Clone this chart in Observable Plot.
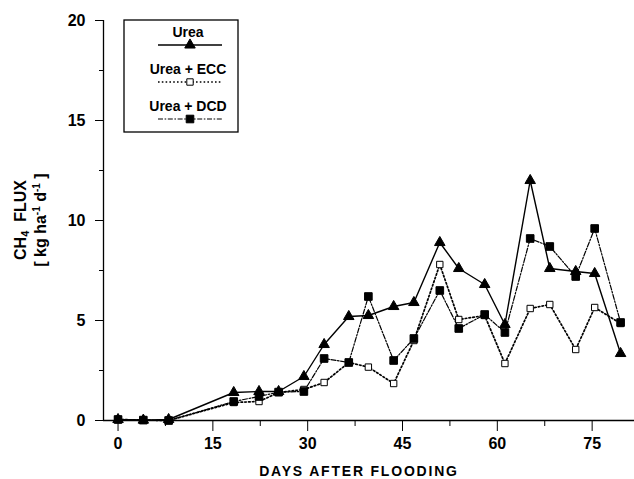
<!DOCTYPE html>
<html><head><meta charset="utf-8">
<script src="https://cdn.jsdelivr.net/npm/d3@7"></script>
<script src="https://cdn.jsdelivr.net/npm/@observablehq/plot@0.6"></script>
<style>
body{margin:0;background:#fff;}
#wrap{width:634px;height:479px;}
</style></head><body><div id="wrap"></div>
<script>
const days = [0, 4, 8, 18.3, 22.3, 25.4, 29.4, 32.6, 36.5, 39.6, 43.6, 46.8, 50.9, 53.9, 58.0, 61.2, 65.2, 68.3, 72.4, 75.4, 79.5];
const urea = [0.05, 0.02, 0.05, 1.4, 1.45, 1.45, 2.2, 3.8, 5.2, 5.25, 5.7, 5.9, 8.9, 7.6, 6.8, 4.8, 12.0, 7.6, 7.45, 7.35, 3.35];
const ecc  = [0.05, 0.02, 0.0, 0.9, 0.95, 1.4, 1.55, 1.9, 2.9, 2.67, 1.85, 4.0, 7.8, 5.05, 5.25, 2.85, 5.6, 5.8, 3.55, 5.65, 4.85];
const dcd  = [0.05, 0.02, 0.0, 0.95, 1.2, 1.42, 1.45, 3.1, 2.9, 6.2, 3.0, 4.1, 6.5, 4.6, 5.3, 4.4, 9.1, 8.7, 7.2, 9.6, 4.9];
const seriesNames = ["Urea", "Urea + ECC", "Urea + DCD"];
const xTicks = [0, 15, 30, 45, 60, 75];
const xMinor = [7.5, 22.5, 37.5, 52.5, 67.5];
const yTicks = [0, 5, 10, 15, 20];
const yMinor = [2.5, 7.5, 12.5, 17.5];
const xLabel = "DAYS AFTER FLOODING";

const styles = {
  "Urea":       {dash: null, width: 1.4, symbol: "triangle", r: 3.9, fill: "black"},
  "Urea + ECC": {dash: "1.6,2.2", width: 1.7, symbol: "square", r: 3.6, fill: "white"},
  "Urea + DCD": {dash: "5,1.6,1.6,1.6", width: 1.2, symbol: "square", r: 4.3, fill: "black"}
};
const vals = [urea, ecc, dcd];
const rows = [];
seriesNames.forEach((s, i) => days.forEach((d, j) => rows.push({series: s, day: d, flux: vals[i][j]})));

const xDom = [-2.3, 81.7];
const font = "'Liberation Sans', Arial, sans-serif";

const marks = [
  Plot.ruleY([0], {stroke: "black", strokeWidth: 1.3}),
  Plot.ruleX([xDom[0]], {stroke: "black", strokeWidth: 1.3}),
  Plot.axisX(xTicks, {tickSize: 11, tickPadding: 6, fontSize: 16, fontWeight: "bold", label: null}),
  Plot.axisX(xMinor, {tickSize: 6, tickFormat: () => "", label: null}),
  Plot.axisY(yTicks, {tickSize: 8, tickPadding: 10, fontSize: 16, fontWeight: "bold", label: null}),
  Plot.axisY(yMinor, {tickSize: 4, tickFormat: () => "", label: null})
];
seriesNames.forEach(s => {
  const st = styles[s];
  const data = rows.filter(r => r.series === s);
  marks.push(Plot.line(data, {x: "day", y: "flux", stroke: "black", strokeWidth: st.width, strokeDasharray: st.dash}));
});
seriesNames.forEach(s => {
  const st = styles[s];
  const data = rows.filter(r => r.series === s);
  marks.push(Plot.dot(data, {x: "day", y: "flux", symbol: () => st.symbol, r: st.r, fill: st.fill, stroke: "black", strokeWidth: 1}));
});

const chart = Plot.plot({
  width: 634, height: 479,
  marginLeft: 103, marginRight: 0, marginTop: 20, marginBottom: 59,
  x: {domain: xDom, label: null},
  y: {domain: [0, 20], label: null},
  symbol: {type: "identity"},
  style: {fontFamily: font, color: "black", background: "white", overflow: "visible"},
  marks
});
document.getElementById("wrap").appendChild(chart);

const svg = d3.select(chart);
// x axis label
svg.append("text").attr("x", 359).attr("y", 472).attr("text-anchor", "middle")
  .attr("dominant-baseline", "middle")
  .style("font", `bold 14px ${font}`).style("letter-spacing", "1.8px").text(xLabel);
// y axis label
const yl = svg.append("g").attr("transform", "translate(22,220) rotate(-90)")
  .style("font", `bold 16px ${font}`);
const t1 = yl.append("text").attr("text-anchor", "middle").attr("dominant-baseline", "middle").attr("y", 0);
t1.append("tspan").text("CH");
t1.append("tspan").attr("dy", 4).style("font-size", "11px").text("4");
t1.append("tspan").attr("dy", -4).text("  FLUX");
const t2 = yl.append("text").attr("text-anchor", "middle").attr("dominant-baseline", "middle").attr("y", 20);
t2.append("tspan").text("[ kg ha");
t2.append("tspan").attr("dy", -5).style("font-size", "10px").text("-1");
t2.append("tspan").attr("dy", 5).text(" d");
t2.append("tspan").attr("dy", -5).style("font-size", "10px").text("-1");
t2.append("tspan").attr("dy", 5).text(" ]");

// legend
const lg = svg.append("g");
lg.append("rect").attr("x", 124).attr("y", 20).attr("width", 114).attr("height", 112)
  .attr("fill", "white").attr("stroke", "black").attr("stroke-width", 1.3);
seriesNames.forEach((s, i) => {
  const st = styles[s];
  const ty = 33 + i * 37, ly = ty + 12;
  lg.append("text").attr("x", 188).attr("y", ty).attr("text-anchor", "middle").attr("dominant-baseline", "middle")
    .style("font", `bold 14px ${font}`).text(s);
  lg.append("line").attr("x1", 158).attr("x2", 222).attr("y1", ly).attr("y2", ly)
    .attr("stroke", "black").attr("stroke-width", st.width).attr("stroke-dasharray", st.dash);
  const sym = st.symbol === "triangle" ? d3.symbolTriangle : d3.symbolSquare;
  lg.append("path").attr("d", d3.symbol(sym, Math.PI * st.r * st.r)())
    .attr("transform", `translate(190,${ly})`).attr("fill", st.fill).attr("stroke", "black");
});
</script></body></html>
